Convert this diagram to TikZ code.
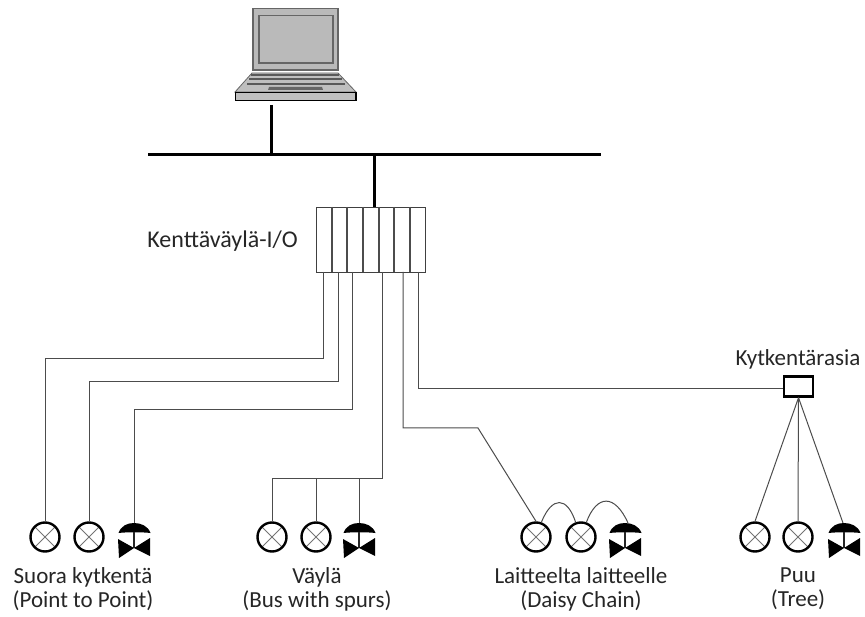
\documentclass[tikz,border=0pt]{standalone}
\usepackage{fontspec}
\setmainfont{Carlito}
\tikzset{
 x=1pt,y=-1pt,
 wire/.style={draw=black!70,line width=1pt},
 bus/.style={draw=black,line width=3pt},
 lamp/.style={circle,draw=black,line width=2.4pt,minimum size=29pt,inner sep=0pt,path picture={
   \draw[black!55,line width=.9pt] (path picture bounding box.north west)--(path picture bounding box.south east)
   (path picture bounding box.north east)--(path picture bounding box.south west);}},
 lbl/.style={font=\fontsize{23}{24}\selectfont,align=center,inner sep=0pt,text=black!85},
 lapfill/.style={fill=black!27,draw=black!60,line width=1.2pt},
}
\newcommand{\valvesym}[2]{%
 \fill[black] (#1-15.5,#2+10) .. controls (#1-13,#2+3) and (#1-7,#2) .. (#1,#2) .. controls (#1+7,#2) and (#1+14,#2+3) .. (#1+16.5,#2+10) .. controls (#1+8,#2+9) and (#1-7,#2+9) .. (#1-15.5,#2+10) -- cycle;
 \draw[black!85,line width=1.5pt] (#1,#2+9)--(#1,#2+25);
 \fill[black] (#1-16,#2+16)--(#1,#2+25)--(#1+16,#2+15)--(#1+16,#2+33)--(#1,#2+25)--(#1-15,#2+35)--cycle;
}
\begin{document}
\begin{tikzpicture}
\useasboundingbox (0,0) rectangle (865,617);
% laptop
\path[lapfill] (253,8.5) rectangle (338,70);
\draw[black!60,line width=1.6pt] (259,15.5) rectangle (333,63);
\path[fill=black!25,draw=black!60,line width=.8pt] (252,73)--(338,73)--(356,92)--(235,92)--cycle;
\draw[black!65,line width=1.3pt] (251,75)--(339,75);
\draw[black!65,line width=1.5pt] (249,79)--(342,79);
\draw[black!65,line width=1.8pt] (247,84)--(345,84);
\fill[black!60] (269,87)--(322,87)--(323,90)--(268,90)--cycle;
\draw[black,line width=1.1pt,fill=black!25] (235.5,92.5) rectangle (356,100.5);
% network
\coordinate (busL) at (148,155);
\coordinate (busR) at (601,155);
\coordinate (lapB) at (271,105);
\coordinate (lapJ) at (271,155);
\coordinate (ioJ) at (374,155);
\draw[bus] (busL)--(busR);
\draw[bus] (lapB)--(lapJ);
% I/O
\node[draw=black!75,line width=1.1pt,minimum width=109pt,minimum height=65pt,inner sep=0pt,anchor=north west] (io) at (316,207) {};
\draw[bus] (ioJ)--(io.north -| ioJ);
\foreach \xx in {332,347,363,379,394,410}{\draw[black!70,line width=1.1pt] (\xx,207)--(\xx,272);}
\node[lbl,font=\fontsize{24}{26}\selectfont,anchor=east] (iolab) at (298,241) {Kenttäväylä-I/O};
% lamps
\foreach \n/\xx in {a1/45,a2/89,b1/272,b2/316,c1/536,c2/581,d1/755,d2/798}{
 \node[lamp] (\n) at (\xx,537) {};
}
\valvesym{134}{523}
\valvesym{359}{523}
\valvesym{625}{523}
\valvesym{844}{523}
\coordinate (a3) at (134,523);
\coordinate (b3) at (359,523);
\coordinate (c3) at (628,523);
\coordinate (d3) at (843,523);
% junction box
\node[draw=black,line width=2.4pt,fill=white,minimum width=29pt,minimum height=20pt,inner sep=0pt] (jb) at (798.5,386.5) {};
\node[lbl,anchor=south] (jblab) at (798,369) {Kytkentärasia};
% wires
\draw[wire] (323,272)--(323,359)--(45,359)--(a1.north);
\draw[wire] (338,272)--(338,382)--(89,382)--(a2.north);
\draw[wire] (352,272)--(352,410)--(134,410)--(a3);
\draw[wire] (382,272)--(382,478)--(272,478)--(b1.north);
\draw[wire] (316,478)--(b2.north);
\draw[wire] (359,478)--(b3);
\draw[wire] (403,272)--(403,428)--(478,428)--(c1.north);
\draw[wire] (c1.70) .. controls (552,496) and (567,496) .. (c2.110);
\draw[wire] (c2.70) .. controls (597,494) and (615,494) .. (c3);
\draw[wire] (418,272)--(418,389)--(jb.west |- 418,389);
\draw[wire] (jb.south)--(d1.north);
\draw[wire] (jb.south)--(d2.north);
\draw[wire] (jb.south)--(d3);
% labels
\node[lbl] (t1) at (83,589) {Suora kytkentä\\(Point to Point)};
\node[lbl] (t2) at (317,589) {Väylä\\(Bus with spurs)};
\node[lbl] (t3) at (581,589) {Laitteelta laitteelle\\(Daisy Chain)};
\node[lbl] (t4) at (798,589) {Puu\\(Tree)};
\end{tikzpicture}
\end{document}
